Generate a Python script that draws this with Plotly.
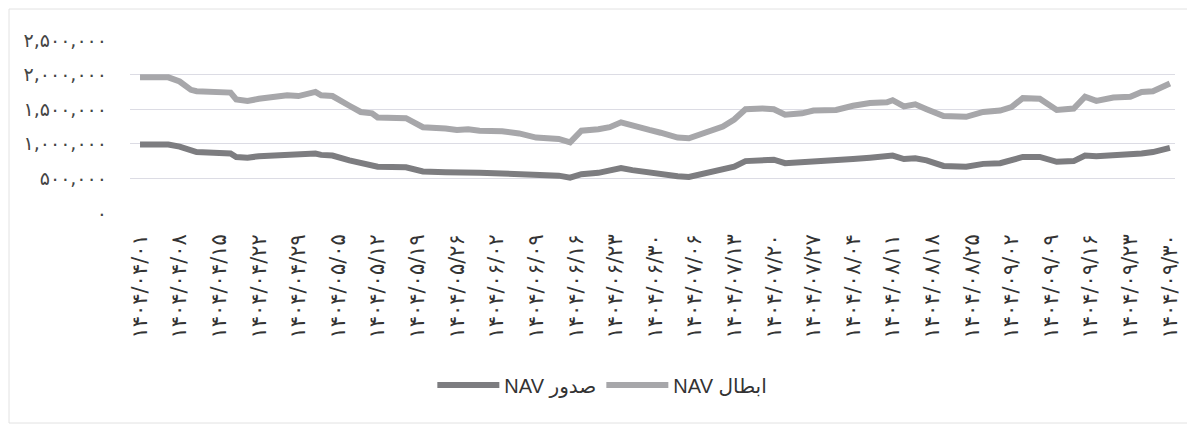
import plotly.graph_objects as go

# ---- data, dates in Jalali calendar ----
dates = [
    "1404/04/01", "1404/04/06", "1404/04/08", "1404/04/10", "1404/04/11", "1404/04/14",
    "1404/04/17", "1404/04/18", "1404/04/20", "1404/04/22", "1404/04/25", "1404/04/27",
    "1404/04/29", "1404/05/01", "1404/05/02", "1404/05/04", "1404/05/07", "1404/05/09",
    "1404/05/11", "1404/05/12", "1404/05/17", "1404/05/20", "1404/05/24", "1404/05/26",
    "1404/05/28", "1404/05/30", "1404/06/03", "1404/06/06", "1404/06/09", "1404/06/13",
    "1404/06/15", "1404/06/17", "1404/06/20", "1404/06/22", "1404/06/24", "1404/06/26",
    "1404/06/29", "1404/06/31", "1404/07/03", "1404/07/05", "1404/07/08", "1404/07/11",
    "1404/07/13", "1404/07/15", "1404/07/18", "1404/07/20", "1404/07/22", "1404/07/25",
    "1404/07/27", "1404/08/01", "1404/08/04", "1404/08/07", "1404/08/10", "1404/08/11",
    "1404/08/13", "1404/08/15", "1404/08/17", "1404/08/20", "1404/08/24", "1404/08/27",
    "1404/08/30", "1404/09/02", "1404/09/04", "1404/09/07", "1404/09/10", "1404/09/13",
    "1404/09/15", "1404/09/17", "1404/09/20", "1404/09/23", "1404/09/25", "1404/09/27",
    "1404/09/30",
]
nav_ebtal = [
    1960000, 1960000, 1900000, 1780000, 1760000, 1750000,
    1740000, 1640000, 1620000, 1650000, 1680000, 1700000,
    1690000, 1750000, 1700000, 1690000, 1550000, 1460000,
    1440000, 1380000, 1370000, 1240000, 1220000, 1200000,
    1210000, 1190000, 1180000, 1150000, 1090000, 1070000,
    1020000, 1190000, 1210000, 1240000, 1310000, 1260000,
    1200000, 1160000, 1090000, 1080000, 1170000, 1250000,
    1350000, 1500000, 1510000, 1500000, 1420000, 1440000,
    1480000, 1490000, 1550000, 1590000, 1600000, 1630000,
    1540000, 1570000, 1500000, 1400000, 1390000, 1460000,
    1480000, 1530000, 1660000, 1650000, 1490000, 1510000,
    1680000, 1620000, 1670000, 1680000, 1750000, 1760000,
    1870000,
]
nav_sodoor = [
    990000, 990000, 960000, 900000, 880000, 870000,
    860000, 810000, 800000, 820000, 830000, 840000,
    840000, 860000, 840000, 830000, 760000, 720000,
    700000, 670000, 660000, 600000, 590000, 580000,
    580000, 580000, 570000, 560000, 550000, 540000,
    510000, 560000, 580000, 610000, 650000, 620000,
    580000, 560000, 530000, 520000, 580000, 620000,
    670000, 750000, 770000, 770000, 720000, 730000,
    750000, 760000, 780000, 800000, 810000, 830000,
    780000, 790000, 760000, 680000, 670000, 710000,
    720000, 760000, 810000, 810000, 740000, 750000,
    830000, 820000, 830000, 840000, 860000, 880000,
    940000,
]
y_tick_values = [0, 500000, 1000000, 1500000, 2000000, 2500000]

series_names = ["NAV صدور", "NAV ابطال"]

# ---- helpers ----
FA = str.maketrans("0123456789", "۰۱۲۳۴۵۶۷۸۹")


def fa(s):
    return s.translate(FA)


month_len = {4: 31, 5: 31, 6: 31, 7: 30, 8: 30, 9: 30}
all_days = []
for m in range(4, 10):
    for d in range(1, month_len[m] + 1):
        all_days.append(f"1404/{m:02d}/{d:02d}")
all_fa = [fa(d) for d in all_days]
tick_cats = all_fa[::7]

x_fa = [fa(d) for d in dates]

# page body has an 8px margin, so the figure is drawn 8px smaller
W, H = 1187, 417
L, R, T, B = 122, 20, 32, 212
PW, PH = W - L - R, H - T - B

fig = go.Figure()
fig.add_trace(go.Scatter(
    x=x_fa, y=nav_sodoor, mode="lines", name=series_names[0],
    line=dict(color="#7d7d80", width=6),
))
fig.add_trace(go.Scatter(
    x=x_fa, y=nav_ebtal, mode="lines", name=series_names[1],
    line=dict(color="#a7a7aa", width=6),
))

fig.update_layout(
    width=W, height=H,
    margin=dict(l=L, r=R, t=T, b=B),
    paper_bgcolor="white", plot_bgcolor="white",
    font=dict(family="DejaVu Sans", color="#444444"),
    showlegend=True,
    legend=dict(
        orientation="h", x=0.452, xanchor="center", y=-0.994, yanchor="middle",
        font=dict(family="Liberation Sans, DejaVu Sans", size=20, color="#333333"),
        itemwidth=62, bgcolor="rgba(0,0,0,0)",
    ),
    xaxis=dict(
        type="category", categoryorder="array", categoryarray=all_fa,
        tickmode="array", tickvals=tick_cats, ticktext=tick_cats,
        tickangle=-90, tickfont=dict(size=21, color="#333333"),
        showgrid=False, zeroline=False, showline=False, ticks="",
        ticklabelstandoff=16, range=[-1.77, 182.9], automargin=False,
    ),
    yaxis=dict(
        range=[0, 2500000], tickmode="array", tickvals=y_tick_values,
        ticktext=[fa(f"{v:,}") for v in y_tick_values],
        tickfont=dict(size=19, color="#444444"),
        showgrid=True, gridcolor="#dcdce4", gridwidth=1,
        zeroline=False, showline=False, ticks="", ticklabelstandoff=22,
        automargin=False,
    ),
    shapes=[dict(
        type="rect", xref="paper", yref="paper",
        x0=-(L - 1) / PW, x1=1 + (R - 3) / PW, y0=-(B - 2) / PH, y1=1 + (T - 1) / PH,
        line=dict(color="#e2e2e2", width=1), fillcolor="rgba(0,0,0,0)", layer="below",
    )],
)

fig.write_html("out.html")
